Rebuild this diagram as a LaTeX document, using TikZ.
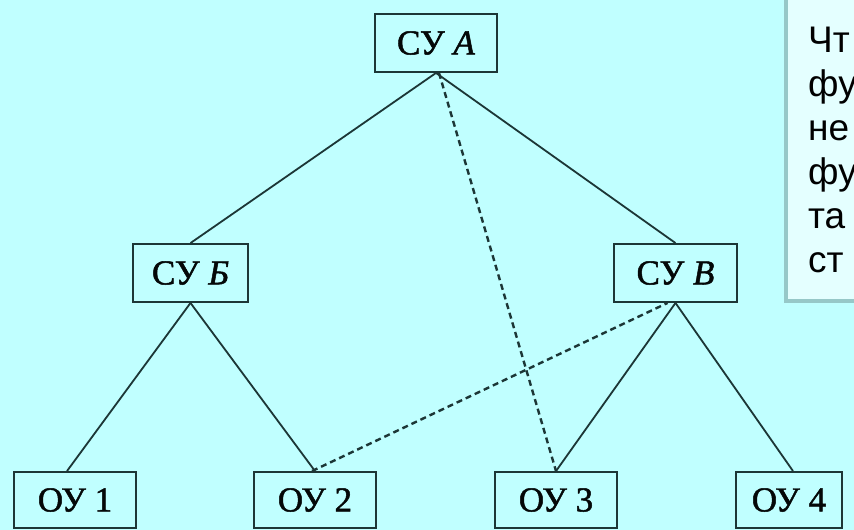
\documentclass[tikz,border=0pt]{standalone}
\usepackage{fontspec}
\setmainfont{Liberation Serif}
\newfontfamily\unitfont[
  BoldFont={Liberation Serif}, BoldFeatures={FakeBold=1.4},
  BoldItalicFont={Liberation Serif Italic}, BoldItalicFeatures={FakeBold=1.4}
]{Liberation Serif}
\newfontfamily\notefont{Liberation Sans}
\definecolor{bgcol}{RGB}{192,255,255}
\definecolor{inkcol}{RGB}{28,54,54}
\definecolor{notefill}{RGB}{228,255,255}
\definecolor{noteshade}{RGB}{150,200,200}
\begin{document}
\begin{tikzpicture}[x=1pt,y=-1pt,
  unit/.style={draw=inkcol, line width=1.9pt, inner sep=0pt,
    minimum height=58pt, text=black!85!inkcol,
    font=\unitfont\bfseries\fontsize{35}{40}\selectfont},
  link/.style={draw=inkcol, line width=1.8pt},
  dashlink/.style={draw=inkcol, line width=2.4pt, dash pattern=on 6pt off 4pt},
  noteline/.style={anchor=base west, inner sep=0pt, text=black,
    font=\notefont\fontsize{37}{44}\selectfont}]
  % canvas
  \useasboundingbox (0,0) rectangle (854,530);
  \fill[bgcol] (0,0) rectangle (854,530);

  % control units
  \node[unit, minimum width=122pt] (a) at (436,43) {СУ \textit{А}};
  \node[unit, minimum width=115pt] (b) at (190.5,273) {СУ \textit{Б}};
  \node[unit, minimum width=123pt] (v) at (675.5,273) {СУ \textit{В}};

  % controlled objects
  \node[unit, minimum width=122pt, minimum height=56pt] (o1) at (75,500) {ОУ 1};
  \node[unit, minimum width=122pt, minimum height=56pt] (o2) at (315,500) {ОУ 2};
  \node[unit, minimum width=122pt, minimum height=56pt] (o3) at (556,500) {ОУ 3};
  \node[unit, minimum width=106pt, minimum height=56pt] (o4) at (789,500) {ОУ 4};

  % hierarchy links
  \draw[link] (a.south) -- (b.north);
  \draw[link] (a.south) -- (v.north);
  \draw[link] (b.south) -- ([xshift=-8pt]o1.north);
  \draw[link] (b.south) -- (o2.north);
  \draw[link] (v.south) -- (o3.north);
  \draw[link] (v.south) -- ([xshift=4pt]o4.north);

  % cross links
  \draw[dashlink] ([xshift=3pt]a.south) -- (o3.north);
  \draw[dashlink] ([xshift=-3pt]o2.north) -- ([xshift=-8pt]v.south);

  % side note, cut by the right edge
  \begin{scope}
    \clip (0,0) rectangle (854,530);
    \fill[noteshade] (784,-5) rectangle (860,303);
    \fill[notefill] (788,-5) rectangle (860,299);
    \node[noteline] (t1) at (808,52) {Чт};
    \node[noteline] (t2) at (808,96) {фу};
    \node[noteline] (t3) at (808,140) {не};
    \node[noteline] (t4) at (808,184) {фу};
    \node[noteline] (t5) at (808,228) {та};
    \node[noteline] (t6) at (808,272) {ст};
  \end{scope}
\end{tikzpicture}
\end{document}
